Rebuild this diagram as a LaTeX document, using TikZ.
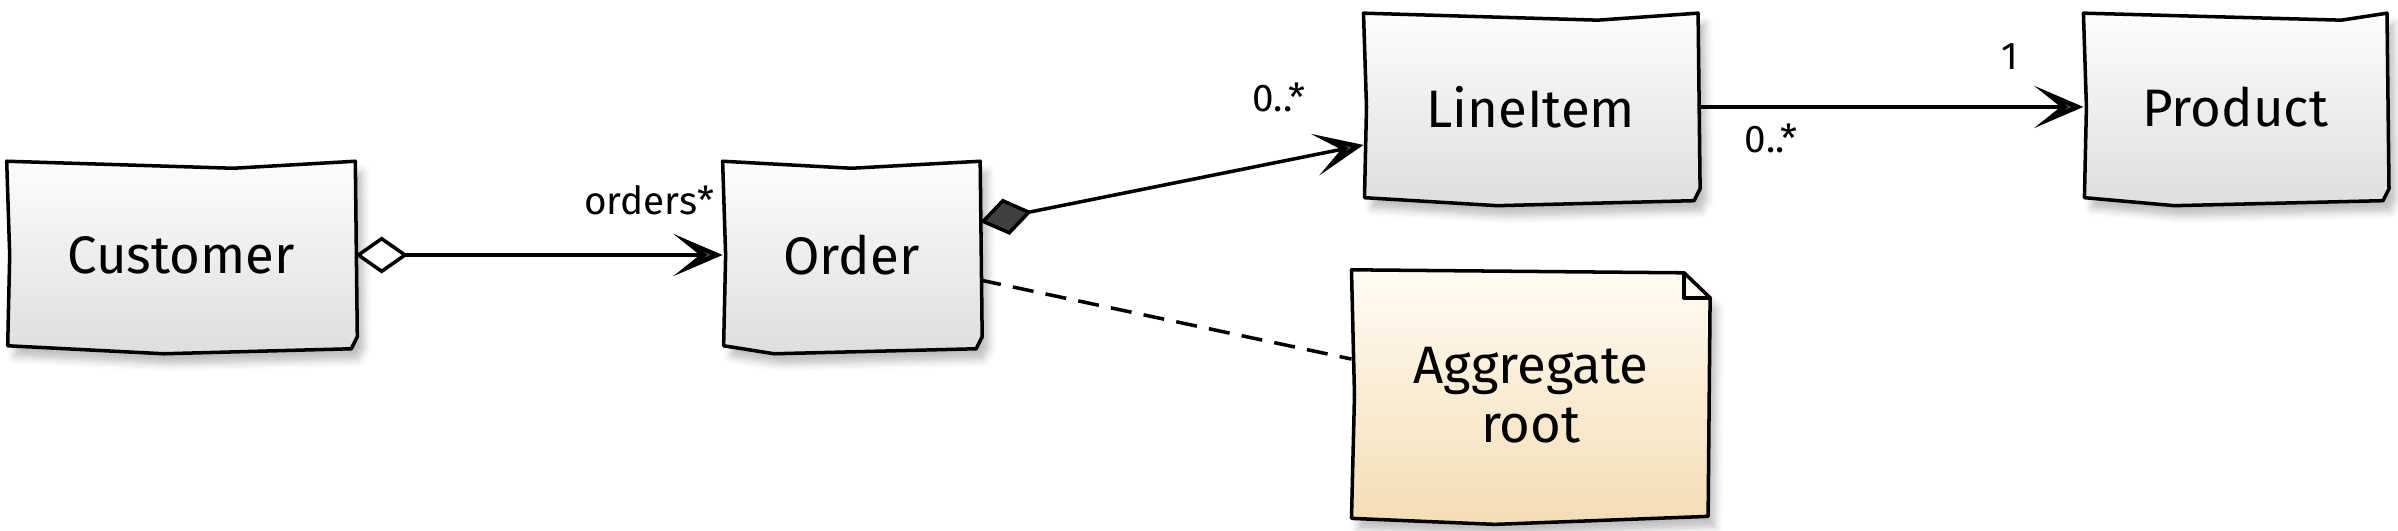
\documentclass[tikz,border=0pt]{standalone}
\usepackage{fontspec}
\setmainfont{Fira Sans}
\usetikzlibrary{arrows.meta, positioning, calc, backgrounds, shadows.blur}

\definecolor{notetop}{RGB}{255,251,243}
\definecolor{notebot}{RGB}{244,221,180}

\begin{document}
\begin{tikzpicture}[x=0.01cm, y=-0.01cm, on grid,
  classbox/.style={minimum height=1.86cm, font=\fontsize{15pt}{18pt}\selectfont},
  notebox/.style={minimum width=3.57cm, minimum height=2.49cm, align=center,
    font=\fontsize{15pt}{17pt}\selectfont},
  sketch/.style={draw, line width=1pt, line join=round, top color=black!1,
    bottom color=black!13, blur shadow={shadow xshift=2pt, shadow yshift=-3pt,
    shadow opacity=25}},
  mult/.style={font=\fontsize{11pt}{13pt}\selectfont, inner sep=1pt},
  umlhead/.tip={Stealth[length=14pt, width=12pt, inset=7.5pt, fill=black!70, line width=1.3pt]}]
\useasboundingbox (0,0) rectangle (2398,530);

\node[classbox, minimum width=3.47cm] (cust) at (181,255) {Customer};
\node[classbox, minimum width=2.56cm] (order) [right=6.7cm of cust] {Order};
\node[classbox, minimum width=3.33cm] (item) [above right=1.48cm and 6.79cm of order] {LineItem};
\node[classbox, minimum width=3.02cm] (prod) [right=7.04cm of item] {Product};
\node[notebox] (note) [below=2.88cm of item] {Aggregate\\root};

% hand drawn outlines behind the texts
\begin{scope}[on background layer]
\foreach \n/\t/\b in {cust/0.65/0.45, order/0.5/0.2, item/0.7/0.4, prod/0.85/0.3}
  \draw[sketch] (\n.north west) -- ($(\n.north west)!\t!(\n.north east)+(0,7)$)
    -- (\n.north east) -- ($(\n.south east)+(2,-12)$) -- ($(\n.south east)+(-4,0)$)
    -- ($(\n.south west)!\b!(\n.south east)+(0,5)$) -- ($(\n.south west)+(1,-3)$)
    -- ($(\n.west)+(3,0)$) -- cycle;
\draw[sketch, top color=notetop, bottom color=notebot] (note.north west)
  -- ($(note.north east)+(-26,3)$) -- ($(note.north east)+(0,28)$)
  -- ($(note.south east)+(-2,-4)$) -- ($(note.south west)!0.4!(note.south east)+(0,4)$)
  -- ($(note.south west)+(0,-2)$) -- ($(note.west)+(3,0)$) -- cycle;
\draw[line width=1pt, line join=round] ($(note.north east)+(-26,3)$)
  -- ($(note.north east)+(-26,28)$) -- ($(note.north east)+(0,28)$);
\end{scope}

\path[line width=1pt]
  (cust.east) edge[{Diamond[fill=white, length=15pt, width=10.5pt]}-{umlhead}]
    node[mult, pos=0.8, above=0.35cm] {orders*} (order.west)
  ([yshift=0.33cm]order.east) edge[{Diamond[fill=black!75, length=15pt, width=10.5pt]}-{umlhead}]
    node[mult, pos=0.78, above=0.45cm] {0..*} ([yshift=-0.38cm]item.west)
  (item.east) edge[-{umlhead}]
    node[mult, pos=0.19, below=0.12cm] {0..*}
    node[mult, pos=0.81, above=0.32cm] {1} (prod.west)
  ([yshift=-0.25cm]order.east) edge[dash pattern=on 6pt off 3.5pt] ([yshift=0.36cm]note.west);

\end{tikzpicture}
\end{document}
